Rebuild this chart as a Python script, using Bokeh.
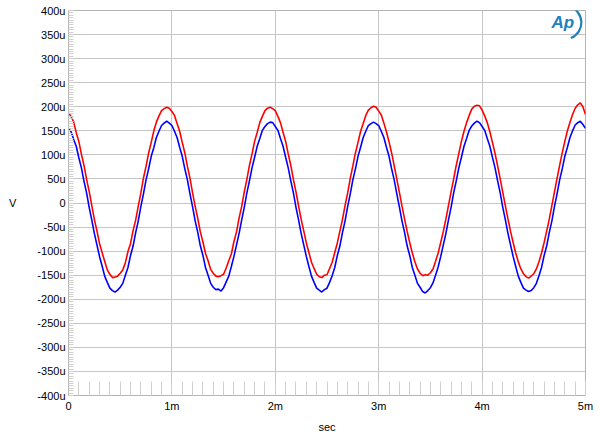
import numpy as np
from bokeh.plotting import figure
from bokeh.models import Range1d, SingleIntervalTicker, Label
from bokeh.core.properties import value
from bokeh.embed import file_html
from bokeh.resources import INLINE

# ---- data (time in ms, voltage in microvolts) ----
step_ms = 0.025

red_uV = (
    [187, 180, 168, 146, 128, 101, 78, 49, 24, -5, -34, -58, -84, -103, -121, -139, -148, -155, -154, -152,
     -146, -139, -124, -101, -84, -57, -35, -6, 21, 52, 76, 104, 126, 150, 168, 181, 192, 196]
    + [199, 197, 190, 182, 165, 149, 126, 104, 76, 51, 21, -7, -32, -60, -81, -105, -120, -138, -146, -152,
       -153, -151, -148, -135, -120, -106, -80, -60, -31, -7, 23, 49, 78, 102, 128, 147, 167, 180, 192, 197]
    + [199, 196, 192, 180, 167, 147, 128, 102, 78, 49, 23, -6, -34, -58, -83, -103, -123, -136, -148, -153,
       -155, -150, -149, -136, -123, -103, -83, -58, -34, -5, 21, 51, 77, 104, 126, 149, 165, 182, 193, 198]
    + [201, 199, 191, 183, 166, 148, 127, 104, 77, 50, 22, -6, -33, -59, -82, -104, -122, -137, -146, -151,
       -149, -150, -145, -137, -121, -104, -82, -59, -33, -5, 23, 50, 78, 103, 128, 149, 167, 182, 195, 201]
    + [203, 202, 193, 181, 167, 148, 126, 103, 77, 50, 22, -6, -33, -59, -82, -104, -122, -137, -147, -153,
       -156, -152, -147, -137, -122, -104, -82, -58, -33, -5, 23, 51, 78, 104, 128, 150, 168, 184, 197, 204]
    + [208, 200, 184]
)

blue_uV = (
    [155, 148, 132, 118, 94, 73, 45, 21, -9, -35, -63, -87, -111, -131, -152, -165, -177, -182, -185, -181,
     -175, -167, -150, -134, -109, -89, -61, -37, -7, 19, 48, 71, 97, 115, 136, 149, 161, 166]
    + [170, 166, 161, 149, 136, 116, 97, 71, 48, 19, -8, -37, -61, -89, -109, -134, -150, -167, -175, -180,
       -179, -183, -176, -164, -152, -132, -111, -87, -63, -35, -9, 21, 46, 73, 95, 118, 134, 151, 159, 165]
    + [168, 167, 159, 151, 134, 118, 95, 73, 46, 21, -9, -35, -63, -87, -111, -132, -152, -165, -177, -181,
       -185, -180, -177, -165, -151, -134, -109, -89, -61, -37, -7, 19, 48, 71, 97, 116, 136, 149, 161, 165]
    + [168, 165, 161, 149, 136, 116, 97, 71, 48, 19, -8, -37, -61, -89, -109, -134, -150, -167, -175, -184,
       -187, -182, -176, -166, -150, -133, -111, -87, -63, -35, -9, 21, 46, 73, 95, 118, 134, 151, 160, 166]
    + [170, 167, 159, 151, 134, 118, 95, 73, 46, 21, -9, -35, -63, -87, -111, -132, -152, -165, -177, -181,
       -184, -182, -176, -167, -151, -134, -109, -89, -61, -37, -7, 19, 48, 71, 97, 116, 136, 150, 162, 167]
    + [170, 163, 155]
)

time_ms = np.arange(len(red_uV)) * step_ms

x_ticks = [0, 1, 2, 3, 4, 5]
x_labels = ["0", "1m", "2m", "3m", "4m", "5m"]
y_ticks = list(range(-400, 401, 50))
y_labels = [("0" if v == 0 else f"{v}u") for v in y_ticks]

FONT = "Liberation Sans"
GRID = "#c6c6c6"

p = figure(width=600, height=438, output_backend="svg", toolbar_location=None,
           x_range=Range1d(0, 5.0), y_range=Range1d(-400, 400),
           min_border_left=68, min_border_right=15, min_border_top=10, min_border_bottom=43)
p.background_fill_color = "white"
p.border_fill_color = "white"
p.outline_line_color = "#b4b4b4"

p.line(time_ms, red_uV, line_color="#ff0000", line_width=1.6)
p.line(time_ms, blue_uV, line_color="#0000ff", line_width=1.6)

# axes
xt = SingleIntervalTicker(interval=1, num_minor_ticks=10)
yt = SingleIntervalTicker(interval=50, num_minor_ticks=10)
p.xaxis.ticker = xt
p.yaxis.ticker = yt
p.xgrid.ticker = xt
p.ygrid.ticker = yt
p.xaxis.major_label_overrides = dict(zip(x_ticks, x_labels))
p.yaxis.major_label_overrides = dict(zip(y_ticks, y_labels))

for ax in (p.xaxis, p.yaxis):
    ax.axis_line_color = "#b4b4b4"
    ax.major_tick_in = 0
    ax.major_tick_out = 0
    ax.minor_tick_out = 0
    ax.minor_tick_line_color = "#d0d0d0"
    ax.major_label_text_font = FONT
    ax.major_label_text_font_size = "11px"
    ax.major_label_text_color = "black"
    ax.axis_label_text_font = FONT
    ax.axis_label_text_font_size = "11px"
    ax.axis_label_text_font_style = "normal"
    ax.axis_label_text_color = "black"

p.xaxis.minor_tick_in = 14
p.yaxis.minor_tick_in = 5
p.xaxis.major_label_standoff = 4
p.yaxis.major_label_standoff = 3
p.xaxis.axis_label = "sec"
p.xaxis.axis_label_standoff = 6
p.yaxis.axis_label = "V"
p.yaxis.axis_label_orientation = "horizontal"
p.yaxis.axis_label_standoff = 18

p.xgrid.grid_line_color = GRID
p.ygrid.grid_line_color = GRID
p.xgrid.grid_line_width = 1
p.ygrid.grid_line_width = 1

# Ap logo
logo = Label(x=4.78, y=375, text="Ap", text_font=FONT, text_font_size="17px",
             text_font_style="bold italic", text_color="#1f7fc0",
             text_align="center", text_baseline="middle")
p.add_layout(logo)
p.arc(x=[4.80], y=[375], radius=0.16, start_angle=-1.2, end_angle=1.3,
      line_color="#1f7fc0", line_width=2.2)

open("out.html", "w").write(file_html(p, INLINE))
